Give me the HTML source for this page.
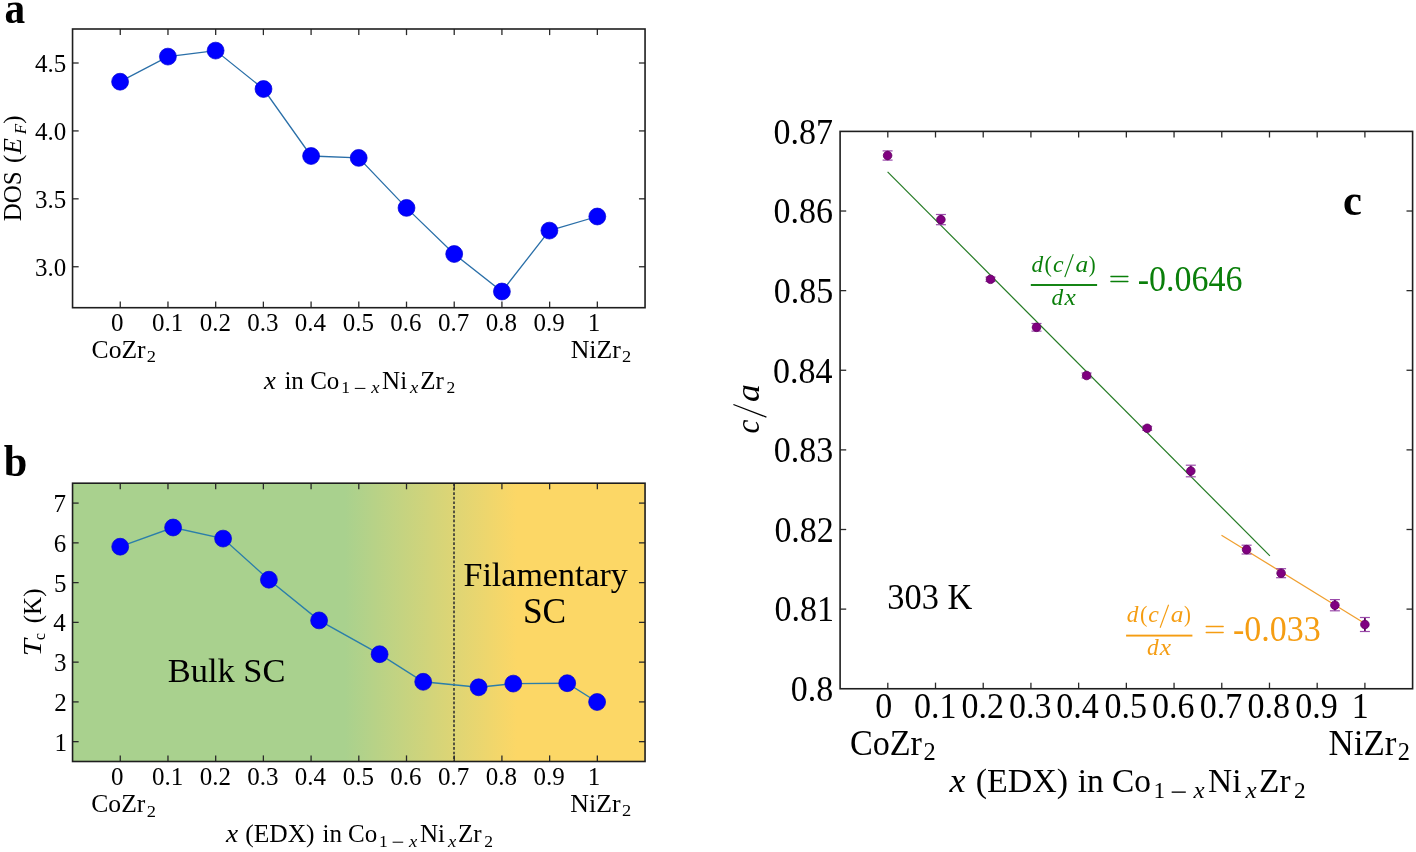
<!DOCTYPE html>
<html><head><meta charset="utf-8"><style>
html,body{margin:0;padding:0;background:#fff;overflow:hidden;}
svg{display:block;will-change:transform;font-family:"Liberation Serif",serif;}
</style></head><body>
<svg width="1416" height="852" viewBox="0 0 1416 852">
<rect width="1416" height="852" fill="#fff"/>
<polyline fill="none" stroke="#2a6fa8" stroke-width="1.3" points="120.1,81.7 167.9,56.6 215.6,50.6 263.5,89.0 311.1,156.0 358.7,157.9 406.5,207.9 454.2,254.0 501.9,291.5 549.4,230.6 597.3,216.5"/>
<circle cx="120.10" cy="81.70" r="8.45" fill="#0000ff" stroke="#0000d2" stroke-width="0.7"/>
<circle cx="167.90" cy="56.60" r="8.45" fill="#0000ff" stroke="#0000d2" stroke-width="0.7"/>
<circle cx="215.60" cy="50.60" r="8.45" fill="#0000ff" stroke="#0000d2" stroke-width="0.7"/>
<circle cx="263.50" cy="89.00" r="8.45" fill="#0000ff" stroke="#0000d2" stroke-width="0.7"/>
<circle cx="311.10" cy="156.00" r="8.45" fill="#0000ff" stroke="#0000d2" stroke-width="0.7"/>
<circle cx="358.70" cy="157.90" r="8.45" fill="#0000ff" stroke="#0000d2" stroke-width="0.7"/>
<circle cx="406.50" cy="207.90" r="8.45" fill="#0000ff" stroke="#0000d2" stroke-width="0.7"/>
<circle cx="454.20" cy="254.00" r="8.45" fill="#0000ff" stroke="#0000d2" stroke-width="0.7"/>
<circle cx="501.90" cy="291.50" r="8.45" fill="#0000ff" stroke="#0000d2" stroke-width="0.7"/>
<circle cx="549.40" cy="230.60" r="8.45" fill="#0000ff" stroke="#0000d2" stroke-width="0.7"/>
<circle cx="597.30" cy="216.50" r="8.45" fill="#0000ff" stroke="#0000d2" stroke-width="0.7"/>
<line x1="120.26" y1="29.00" x2="120.26" y2="35.10" stroke="#2a2a2a" stroke-width="1.3"/>
<line x1="120.26" y1="307.70" x2="120.26" y2="301.60" stroke="#2a2a2a" stroke-width="1.3"/>
<line x1="167.97" y1="29.00" x2="167.97" y2="35.10" stroke="#2a2a2a" stroke-width="1.3"/>
<line x1="167.97" y1="307.70" x2="167.97" y2="301.60" stroke="#2a2a2a" stroke-width="1.3"/>
<line x1="215.68" y1="29.00" x2="215.68" y2="35.10" stroke="#2a2a2a" stroke-width="1.3"/>
<line x1="215.68" y1="307.70" x2="215.68" y2="301.60" stroke="#2a2a2a" stroke-width="1.3"/>
<line x1="263.38" y1="29.00" x2="263.38" y2="35.10" stroke="#2a2a2a" stroke-width="1.3"/>
<line x1="263.38" y1="307.70" x2="263.38" y2="301.60" stroke="#2a2a2a" stroke-width="1.3"/>
<line x1="311.09" y1="29.00" x2="311.09" y2="35.10" stroke="#2a2a2a" stroke-width="1.3"/>
<line x1="311.09" y1="307.70" x2="311.09" y2="301.60" stroke="#2a2a2a" stroke-width="1.3"/>
<line x1="358.80" y1="29.00" x2="358.80" y2="35.10" stroke="#2a2a2a" stroke-width="1.3"/>
<line x1="358.80" y1="307.70" x2="358.80" y2="301.60" stroke="#2a2a2a" stroke-width="1.3"/>
<line x1="406.51" y1="29.00" x2="406.51" y2="35.10" stroke="#2a2a2a" stroke-width="1.3"/>
<line x1="406.51" y1="307.70" x2="406.51" y2="301.60" stroke="#2a2a2a" stroke-width="1.3"/>
<line x1="454.22" y1="29.00" x2="454.22" y2="35.10" stroke="#2a2a2a" stroke-width="1.3"/>
<line x1="454.22" y1="307.70" x2="454.22" y2="301.60" stroke="#2a2a2a" stroke-width="1.3"/>
<line x1="501.92" y1="29.00" x2="501.92" y2="35.10" stroke="#2a2a2a" stroke-width="1.3"/>
<line x1="501.92" y1="307.70" x2="501.92" y2="301.60" stroke="#2a2a2a" stroke-width="1.3"/>
<line x1="549.63" y1="29.00" x2="549.63" y2="35.10" stroke="#2a2a2a" stroke-width="1.3"/>
<line x1="549.63" y1="307.70" x2="549.63" y2="301.60" stroke="#2a2a2a" stroke-width="1.3"/>
<line x1="597.34" y1="29.00" x2="597.34" y2="35.10" stroke="#2a2a2a" stroke-width="1.3"/>
<line x1="597.34" y1="307.70" x2="597.34" y2="301.60" stroke="#2a2a2a" stroke-width="1.3"/>
<line x1="72.55" y1="266.75" x2="78.65" y2="266.75" stroke="#2a2a2a" stroke-width="1.3"/>
<line x1="645.05" y1="266.75" x2="638.95" y2="266.75" stroke="#2a2a2a" stroke-width="1.3"/>
<line x1="72.55" y1="198.83" x2="78.65" y2="198.83" stroke="#2a2a2a" stroke-width="1.3"/>
<line x1="645.05" y1="198.83" x2="638.95" y2="198.83" stroke="#2a2a2a" stroke-width="1.3"/>
<line x1="72.55" y1="130.92" x2="78.65" y2="130.92" stroke="#2a2a2a" stroke-width="1.3"/>
<line x1="645.05" y1="130.92" x2="638.95" y2="130.92" stroke="#2a2a2a" stroke-width="1.3"/>
<line x1="72.55" y1="63.00" x2="78.65" y2="63.00" stroke="#2a2a2a" stroke-width="1.3"/>
<line x1="645.05" y1="63.00" x2="638.95" y2="63.00" stroke="#2a2a2a" stroke-width="1.3"/>
<rect x="72.55" y="29.0" width="572.50" height="278.70" fill="none" stroke="#1e1e1e" stroke-width="1.6"/>
<text x="34.90" y="275.75" font-size="25">3.0</text>
<text x="34.93" y="207.83" font-size="25">3.5</text>
<text x="34.90" y="139.92" font-size="25">4.0</text>
<text x="34.93" y="72.00" font-size="25">4.5</text>
<text x="111.01" y="331.00" font-size="25">0</text>
<text x="152.12" y="331.00" font-size="25">0.1</text>
<text x="199.76" y="331.00" font-size="25">0.2</text>
<text x="247.27" y="331.00" font-size="25">0.3</text>
<text x="294.69" y="331.00" font-size="25">0.4</text>
<text x="342.69" y="331.00" font-size="25">0.5</text>
<text x="390.28" y="331.00" font-size="25">0.6</text>
<text x="437.98" y="331.00" font-size="25">0.7</text>
<text x="485.80" y="331.00" font-size="25">0.8</text>
<text x="533.54" y="331.00" font-size="25">0.9</text>
<text x="587.74" y="331.00" font-size="25">1</text>
<text x="4.47" y="23.00" font-size="43.5" font-weight="bold" textLength="20.66" lengthAdjust="spacingAndGlyphs">a</text>
<text x="91.55" y="358.00" font-size="25" textLength="54.08" lengthAdjust="spacingAndGlyphs">CoZr</text>
<text x="146.89" y="362.30" font-size="17.5" textLength="9.23" lengthAdjust="spacingAndGlyphs">2</text>
<text x="570.66" y="358.20" font-size="25" textLength="50.17" lengthAdjust="spacingAndGlyphs">NiZr</text>
<text x="622.09" y="362.30" font-size="17.5" textLength="9.23" lengthAdjust="spacingAndGlyphs">2</text>
<text x="263.93" y="388.60" font-size="25" font-style="italic" textLength="11.87" lengthAdjust="spacingAndGlyphs">x</text>
<text x="284.38" y="388.60" font-size="25">in</text>
<text x="310.17" y="388.60" font-size="25">Co</text>
<text x="341.16" y="393.10" font-size="17.5">1</text>
<rect x="354.80" y="387.90" width="10.60" height="1.00" fill="#000"/>
<text x="371.23" y="393.10" font-size="17.5" font-style="italic" textLength="8.31" lengthAdjust="spacingAndGlyphs">x</text>
<text x="382.08" y="388.60" font-size="25">Ni</text>
<text x="410.13" y="393.10" font-size="17.5" font-style="italic" textLength="8.31" lengthAdjust="spacingAndGlyphs">x</text>
<text x="420.20" y="388.60" font-size="25">Zr</text>
<text x="446.43" y="393.10" font-size="17.5">2</text>
<g transform="translate(21.4,220.6) rotate(-90)">
<text x="-0.72" y="0.00" font-size="25">DOS</text>
<text x="57.50" y="0.00" font-size="25">(</text>
<text x="66.60" y="0.00" font-size="25" font-style="italic" textLength="15.81" lengthAdjust="spacingAndGlyphs">E</text>
<text x="86.39" y="4.50" font-size="17.5" font-style="italic" textLength="10.47" lengthAdjust="spacingAndGlyphs">F</text>
<text x="96.79" y="0.00" font-size="25">)</text>
</g>
<defs><linearGradient id="gb" x1="0" x2="1" y1="0" y2="0"><stop offset="0" stop-color="#a9d18e"/><stop offset="0.4759" stop-color="#a9d18e"/><stop offset="0.7763" stop-color="#fcd766"/><stop offset="1" stop-color="#fcd766"/></linearGradient></defs>
<rect x="72.55" y="483.2" width="572.50" height="278.30" fill="url(#gb)"/>
<line x1="454.00" y1="483.20" x2="454.00" y2="761.50" stroke="#333" stroke-width="1.6" stroke-dasharray="2.7,1.85"/>
<polyline fill="none" stroke="#2b7eaa" stroke-width="1.4" points="120.2,546.7 173.1,527.5 223.1,538.6 268.9,579.7 319.1,620.4 379.6,654.2 423.2,681.8 478.6,687.3 513.3,683.6 567.2,683.2 597.1,702.0"/>
<circle cx="120.20" cy="546.70" r="8.45" fill="#0000ff" stroke="#0000d2" stroke-width="0.7"/>
<circle cx="173.10" cy="527.50" r="8.45" fill="#0000ff" stroke="#0000d2" stroke-width="0.7"/>
<circle cx="223.10" cy="538.60" r="8.45" fill="#0000ff" stroke="#0000d2" stroke-width="0.7"/>
<circle cx="268.90" cy="579.70" r="8.45" fill="#0000ff" stroke="#0000d2" stroke-width="0.7"/>
<circle cx="319.10" cy="620.40" r="8.45" fill="#0000ff" stroke="#0000d2" stroke-width="0.7"/>
<circle cx="379.60" cy="654.20" r="8.45" fill="#0000ff" stroke="#0000d2" stroke-width="0.7"/>
<circle cx="423.20" cy="681.80" r="8.45" fill="#0000ff" stroke="#0000d2" stroke-width="0.7"/>
<circle cx="478.60" cy="687.30" r="8.45" fill="#0000ff" stroke="#0000d2" stroke-width="0.7"/>
<circle cx="513.30" cy="683.60" r="8.45" fill="#0000ff" stroke="#0000d2" stroke-width="0.7"/>
<circle cx="567.20" cy="683.20" r="8.45" fill="#0000ff" stroke="#0000d2" stroke-width="0.7"/>
<circle cx="597.10" cy="702.00" r="8.45" fill="#0000ff" stroke="#0000d2" stroke-width="0.7"/>
<line x1="120.26" y1="483.20" x2="120.26" y2="489.30" stroke="#2a2a2a" stroke-width="1.3"/>
<line x1="120.26" y1="761.50" x2="120.26" y2="755.40" stroke="#2a2a2a" stroke-width="1.3"/>
<line x1="167.97" y1="483.20" x2="167.97" y2="489.30" stroke="#2a2a2a" stroke-width="1.3"/>
<line x1="167.97" y1="761.50" x2="167.97" y2="755.40" stroke="#2a2a2a" stroke-width="1.3"/>
<line x1="215.68" y1="483.20" x2="215.68" y2="489.30" stroke="#2a2a2a" stroke-width="1.3"/>
<line x1="215.68" y1="761.50" x2="215.68" y2="755.40" stroke="#2a2a2a" stroke-width="1.3"/>
<line x1="263.38" y1="483.20" x2="263.38" y2="489.30" stroke="#2a2a2a" stroke-width="1.3"/>
<line x1="263.38" y1="761.50" x2="263.38" y2="755.40" stroke="#2a2a2a" stroke-width="1.3"/>
<line x1="311.09" y1="483.20" x2="311.09" y2="489.30" stroke="#2a2a2a" stroke-width="1.3"/>
<line x1="311.09" y1="761.50" x2="311.09" y2="755.40" stroke="#2a2a2a" stroke-width="1.3"/>
<line x1="358.80" y1="483.20" x2="358.80" y2="489.30" stroke="#2a2a2a" stroke-width="1.3"/>
<line x1="358.80" y1="761.50" x2="358.80" y2="755.40" stroke="#2a2a2a" stroke-width="1.3"/>
<line x1="406.51" y1="483.20" x2="406.51" y2="489.30" stroke="#2a2a2a" stroke-width="1.3"/>
<line x1="406.51" y1="761.50" x2="406.51" y2="755.40" stroke="#2a2a2a" stroke-width="1.3"/>
<line x1="454.22" y1="483.20" x2="454.22" y2="489.30" stroke="#2a2a2a" stroke-width="1.3"/>
<line x1="454.22" y1="761.50" x2="454.22" y2="755.40" stroke="#2a2a2a" stroke-width="1.3"/>
<line x1="501.92" y1="483.20" x2="501.92" y2="489.30" stroke="#2a2a2a" stroke-width="1.3"/>
<line x1="501.92" y1="761.50" x2="501.92" y2="755.40" stroke="#2a2a2a" stroke-width="1.3"/>
<line x1="549.63" y1="483.20" x2="549.63" y2="489.30" stroke="#2a2a2a" stroke-width="1.3"/>
<line x1="549.63" y1="761.50" x2="549.63" y2="755.40" stroke="#2a2a2a" stroke-width="1.3"/>
<line x1="597.34" y1="483.20" x2="597.34" y2="489.30" stroke="#2a2a2a" stroke-width="1.3"/>
<line x1="597.34" y1="761.50" x2="597.34" y2="755.40" stroke="#2a2a2a" stroke-width="1.3"/>
<line x1="72.55" y1="741.66" x2="78.65" y2="741.66" stroke="#2a2a2a" stroke-width="1.3"/>
<line x1="645.05" y1="741.66" x2="638.95" y2="741.66" stroke="#2a2a2a" stroke-width="1.3"/>
<line x1="72.55" y1="701.90" x2="78.65" y2="701.90" stroke="#2a2a2a" stroke-width="1.3"/>
<line x1="645.05" y1="701.90" x2="638.95" y2="701.90" stroke="#2a2a2a" stroke-width="1.3"/>
<line x1="72.55" y1="662.14" x2="78.65" y2="662.14" stroke="#2a2a2a" stroke-width="1.3"/>
<line x1="645.05" y1="662.14" x2="638.95" y2="662.14" stroke="#2a2a2a" stroke-width="1.3"/>
<line x1="72.55" y1="622.38" x2="78.65" y2="622.38" stroke="#2a2a2a" stroke-width="1.3"/>
<line x1="645.05" y1="622.38" x2="638.95" y2="622.38" stroke="#2a2a2a" stroke-width="1.3"/>
<line x1="72.55" y1="582.62" x2="78.65" y2="582.62" stroke="#2a2a2a" stroke-width="1.3"/>
<line x1="645.05" y1="582.62" x2="638.95" y2="582.62" stroke="#2a2a2a" stroke-width="1.3"/>
<line x1="72.55" y1="542.86" x2="78.65" y2="542.86" stroke="#2a2a2a" stroke-width="1.3"/>
<line x1="645.05" y1="542.86" x2="638.95" y2="542.86" stroke="#2a2a2a" stroke-width="1.3"/>
<line x1="72.55" y1="503.10" x2="78.65" y2="503.10" stroke="#2a2a2a" stroke-width="1.3"/>
<line x1="645.05" y1="503.10" x2="638.95" y2="503.10" stroke="#2a2a2a" stroke-width="1.3"/>
<rect x="72.55" y="483.2" width="572.50" height="278.30" fill="none" stroke="#1e1e1e" stroke-width="1.6"/>
<text x="54.40" y="750.66" font-size="25">1</text>
<text x="54.28" y="710.90" font-size="25">2</text>
<text x="53.88" y="671.14" font-size="25">3</text>
<text x="53.29" y="631.38" font-size="25">4</text>
<text x="53.88" y="591.62" font-size="25">5</text>
<text x="53.64" y="551.86" font-size="25">6</text>
<text x="53.62" y="512.10" font-size="25">7</text>
<text x="111.01" y="784.80" font-size="25">0</text>
<text x="152.12" y="784.80" font-size="25">0.1</text>
<text x="199.76" y="784.80" font-size="25">0.2</text>
<text x="247.27" y="784.80" font-size="25">0.3</text>
<text x="294.69" y="784.80" font-size="25">0.4</text>
<text x="342.69" y="784.80" font-size="25">0.5</text>
<text x="390.28" y="784.80" font-size="25">0.6</text>
<text x="437.98" y="784.80" font-size="25">0.7</text>
<text x="485.80" y="784.80" font-size="25">0.8</text>
<text x="533.54" y="784.80" font-size="25">0.9</text>
<text x="587.74" y="784.80" font-size="25">1</text>
<text x="3.86" y="476.40" font-size="43.3" font-weight="bold" textLength="23.55" lengthAdjust="spacingAndGlyphs">b</text>
<text x="91.25" y="812.40" font-size="25" textLength="54.08" lengthAdjust="spacingAndGlyphs">CoZr</text>
<text x="146.69" y="816.50" font-size="17.5" textLength="9.23" lengthAdjust="spacingAndGlyphs">2</text>
<text x="570.36" y="812.20" font-size="25" textLength="50.17" lengthAdjust="spacingAndGlyphs">NiZr</text>
<text x="622.09" y="816.40" font-size="17.5" textLength="9.23" lengthAdjust="spacingAndGlyphs">2</text>
<text x="225.93" y="842.40" font-size="25" font-style="italic" textLength="12.17" lengthAdjust="spacingAndGlyphs">x</text>
<text x="245.28" y="842.40" font-size="25" textLength="69.34" lengthAdjust="spacingAndGlyphs">(EDX)</text>
<text x="322.48" y="842.40" font-size="25">in</text>
<text x="347.97" y="842.40" font-size="25">Co</text>
<text x="378.96" y="846.90" font-size="17.5">1</text>
<rect x="392.60" y="841.70" width="10.60" height="1.00" fill="#000"/>
<text x="409.03" y="846.90" font-size="17.5" font-style="italic" textLength="8.31" lengthAdjust="spacingAndGlyphs">x</text>
<text x="419.88" y="842.40" font-size="25">Ni</text>
<text x="447.93" y="846.90" font-size="17.5" font-style="italic" textLength="8.31" lengthAdjust="spacingAndGlyphs">x</text>
<text x="458.00" y="842.40" font-size="25">Zr</text>
<text x="484.23" y="846.90" font-size="17.5">2</text>
<text x="463.52" y="586.40" font-size="34">Filamentary</text>
<text x="522.93" y="622.70" font-size="35.3" textLength="43.32" lengthAdjust="spacingAndGlyphs">SC</text>
<text x="167.71" y="682.00" font-size="34" textLength="117.69" lengthAdjust="spacingAndGlyphs">Bulk SC</text>
<g transform="translate(40.8,654.6) rotate(-90)">
<text x="-1.71" y="0.00" font-size="25" font-style="italic" textLength="17.10" lengthAdjust="spacingAndGlyphs">T</text>
<text x="14.70" y="4.40" font-size="17.5" textLength="6.98" lengthAdjust="spacingAndGlyphs">c</text>
<text x="31.40" y="0.00" font-size="25">(K)</text>
</g>
<line x1="887.80" y1="131.40" x2="887.80" y2="137.50" stroke="#2a2a2a" stroke-width="1.3"/>
<line x1="887.80" y1="688.75" x2="887.80" y2="682.65" stroke="#2a2a2a" stroke-width="1.3"/>
<line x1="935.51" y1="131.40" x2="935.51" y2="137.50" stroke="#2a2a2a" stroke-width="1.3"/>
<line x1="935.51" y1="688.75" x2="935.51" y2="682.65" stroke="#2a2a2a" stroke-width="1.3"/>
<line x1="983.22" y1="131.40" x2="983.22" y2="137.50" stroke="#2a2a2a" stroke-width="1.3"/>
<line x1="983.22" y1="688.75" x2="983.22" y2="682.65" stroke="#2a2a2a" stroke-width="1.3"/>
<line x1="1030.93" y1="131.40" x2="1030.93" y2="137.50" stroke="#2a2a2a" stroke-width="1.3"/>
<line x1="1030.93" y1="688.75" x2="1030.93" y2="682.65" stroke="#2a2a2a" stroke-width="1.3"/>
<line x1="1078.64" y1="131.40" x2="1078.64" y2="137.50" stroke="#2a2a2a" stroke-width="1.3"/>
<line x1="1078.64" y1="688.75" x2="1078.64" y2="682.65" stroke="#2a2a2a" stroke-width="1.3"/>
<line x1="1126.35" y1="131.40" x2="1126.35" y2="137.50" stroke="#2a2a2a" stroke-width="1.3"/>
<line x1="1126.35" y1="688.75" x2="1126.35" y2="682.65" stroke="#2a2a2a" stroke-width="1.3"/>
<line x1="1174.06" y1="131.40" x2="1174.06" y2="137.50" stroke="#2a2a2a" stroke-width="1.3"/>
<line x1="1174.06" y1="688.75" x2="1174.06" y2="682.65" stroke="#2a2a2a" stroke-width="1.3"/>
<line x1="1221.77" y1="131.40" x2="1221.77" y2="137.50" stroke="#2a2a2a" stroke-width="1.3"/>
<line x1="1221.77" y1="688.75" x2="1221.77" y2="682.65" stroke="#2a2a2a" stroke-width="1.3"/>
<line x1="1269.48" y1="131.40" x2="1269.48" y2="137.50" stroke="#2a2a2a" stroke-width="1.3"/>
<line x1="1269.48" y1="688.75" x2="1269.48" y2="682.65" stroke="#2a2a2a" stroke-width="1.3"/>
<line x1="1317.19" y1="131.40" x2="1317.19" y2="137.50" stroke="#2a2a2a" stroke-width="1.3"/>
<line x1="1317.19" y1="688.75" x2="1317.19" y2="682.65" stroke="#2a2a2a" stroke-width="1.3"/>
<line x1="1364.90" y1="131.40" x2="1364.90" y2="137.50" stroke="#2a2a2a" stroke-width="1.3"/>
<line x1="1364.90" y1="688.75" x2="1364.90" y2="682.65" stroke="#2a2a2a" stroke-width="1.3"/>
<line x1="840.10" y1="609.12" x2="846.20" y2="609.12" stroke="#2a2a2a" stroke-width="1.3"/>
<line x1="1412.60" y1="609.12" x2="1406.50" y2="609.12" stroke="#2a2a2a" stroke-width="1.3"/>
<line x1="840.10" y1="529.50" x2="846.20" y2="529.50" stroke="#2a2a2a" stroke-width="1.3"/>
<line x1="1412.60" y1="529.50" x2="1406.50" y2="529.50" stroke="#2a2a2a" stroke-width="1.3"/>
<line x1="840.10" y1="449.88" x2="846.20" y2="449.88" stroke="#2a2a2a" stroke-width="1.3"/>
<line x1="1412.60" y1="449.88" x2="1406.50" y2="449.88" stroke="#2a2a2a" stroke-width="1.3"/>
<line x1="840.10" y1="370.26" x2="846.20" y2="370.26" stroke="#2a2a2a" stroke-width="1.3"/>
<line x1="1412.60" y1="370.26" x2="1406.50" y2="370.26" stroke="#2a2a2a" stroke-width="1.3"/>
<line x1="840.10" y1="290.64" x2="846.20" y2="290.64" stroke="#2a2a2a" stroke-width="1.3"/>
<line x1="1412.60" y1="290.64" x2="1406.50" y2="290.64" stroke="#2a2a2a" stroke-width="1.3"/>
<line x1="840.10" y1="211.02" x2="846.20" y2="211.02" stroke="#2a2a2a" stroke-width="1.3"/>
<line x1="1412.60" y1="211.02" x2="1406.50" y2="211.02" stroke="#2a2a2a" stroke-width="1.3"/>
<rect x="840.1" y="131.4" width="572.50" height="557.35" fill="none" stroke="#1e1e1e" stroke-width="1.6"/>
<text transform="translate(790.79,701.04) scale(1,1.04)" font-size="34">0.8</text>
<text transform="translate(774.54,621.42) scale(1,1.04)" font-size="34">0.81</text>
<text transform="translate(774.38,541.80) scale(1,1.04)" font-size="34">0.82</text>
<text transform="translate(773.83,462.18) scale(1,1.04)" font-size="34">0.83</text>
<text transform="translate(773.03,382.56) scale(1,1.04)" font-size="34">0.84</text>
<text transform="translate(773.83,302.94) scale(1,1.04)" font-size="34">0.85</text>
<text transform="translate(773.51,223.32) scale(1,1.04)" font-size="34">0.86</text>
<text transform="translate(773.48,143.70) scale(1,1.04)" font-size="34">0.87</text>
<text transform="translate(875.22,718.10) scale(1,1.04)" font-size="34">0</text>
<text transform="translate(913.95,718.10) scale(1,1.04)" font-size="34">0.1</text>
<text transform="translate(961.58,718.10) scale(1,1.04)" font-size="34">0.2</text>
<text transform="translate(1009.02,718.10) scale(1,1.04)" font-size="34">0.3</text>
<text transform="translate(1056.33,718.10) scale(1,1.04)" font-size="34">0.4</text>
<text transform="translate(1104.44,718.10) scale(1,1.04)" font-size="34">0.5</text>
<text transform="translate(1151.99,718.10) scale(1,1.04)" font-size="34">0.6</text>
<text transform="translate(1199.68,718.10) scale(1,1.04)" font-size="34">0.7</text>
<text transform="translate(1247.55,718.10) scale(1,1.04)" font-size="34">0.8</text>
<text transform="translate(1295.31,718.10) scale(1,1.04)" font-size="34">0.9</text>
<text transform="translate(1351.85,718.10) scale(1,1.04)" font-size="34">1</text>
<text x="1342.94" y="215.30" font-size="44.5" font-weight="bold" textLength="18.92" lengthAdjust="spacingAndGlyphs">c</text>
<text transform="translate(849.90,754.50) scale(1,1.035)" font-size="34" textLength="72.10" lengthAdjust="spacingAndGlyphs">CoZr</text>
<text transform="translate(923.53,759.60) scale(1,1.035)" font-size="23.5" textLength="12.22" lengthAdjust="spacingAndGlyphs">2</text>
<text transform="translate(1328.50,754.50) scale(1,1.035)" font-size="34" textLength="67.81" lengthAdjust="spacingAndGlyphs">NiZr</text>
<text transform="translate(1397.83,759.60) scale(1,1.035)" font-size="23.5" textLength="12.22" lengthAdjust="spacingAndGlyphs">2</text>
<text x="949.44" y="792.40" font-size="33.4" font-style="italic" textLength="16.02" lengthAdjust="spacingAndGlyphs">x</text>
<text x="975.71" y="792.40" font-size="33.4" textLength="92.28" lengthAdjust="spacingAndGlyphs">(EDX)</text>
<text x="1077.70" y="792.40" font-size="33.4">in</text>
<text x="1112.03" y="792.40" font-size="33.4">Co</text>
<text x="1153.43" y="798.41" font-size="23.38">1</text>
<rect x="1171.65" y="791.46" width="14.16" height="1.34" fill="#000"/>
<text x="1193.60" y="798.41" font-size="23.38" font-style="italic" textLength="11.10" lengthAdjust="spacingAndGlyphs">x</text>
<text x="1208.10" y="792.40" font-size="33.4">Ni</text>
<text x="1245.57" y="798.41" font-size="23.38" font-style="italic" textLength="11.10" lengthAdjust="spacingAndGlyphs">x</text>
<text x="1259.03" y="792.40" font-size="33.4">Zr</text>
<text x="1294.07" y="798.41" font-size="23.38">2</text>
<g transform="translate(758.6,432.8) rotate(-90)">
<text x="-0.66" y="0.00" font-size="33.4" font-style="italic" textLength="13.90" lengthAdjust="spacingAndGlyphs">c</text>
<line x1="15.70" y1="7.80" x2="28.30" y2="-25.20" stroke="#000" stroke-width="1.3"/>
<text x="30.84" y="0.00" font-size="33.4" font-style="italic" textLength="17.80" lengthAdjust="spacingAndGlyphs">a</text>
</g>
<text transform="translate(887.36,609.00) scale(1,1.04)" font-size="34" textLength="84.79" lengthAdjust="spacingAndGlyphs">303 K</text>
<line x1="887.60" y1="171.80" x2="1269.90" y2="555.90" stroke="#237a23" stroke-width="1.2"/>
<line x1="1221.50" y1="535.20" x2="1364.90" y2="623.50" stroke="#f0a030" stroke-width="1.2"/>
<line x1="887.60" y1="150.90" x2="887.60" y2="160.10" stroke="#5e005e" stroke-width="1.8"/>
<line x1="882.60" y1="150.90" x2="892.60" y2="150.90" stroke="#9a4aaa" stroke-width="1.2"/>
<line x1="882.60" y1="160.10" x2="892.60" y2="160.10" stroke="#9a4aaa" stroke-width="1.2"/>
<circle cx="887.60" cy="155.50" r="4.3" fill="#800080" stroke="#600060" stroke-width="0.8"/>
<line x1="940.90" y1="214.50" x2="940.90" y2="224.70" stroke="#5e005e" stroke-width="1.8"/>
<line x1="935.90" y1="214.50" x2="945.90" y2="214.50" stroke="#9a4aaa" stroke-width="1.2"/>
<line x1="935.90" y1="224.70" x2="945.90" y2="224.70" stroke="#9a4aaa" stroke-width="1.2"/>
<circle cx="940.90" cy="219.60" r="4.3" fill="#800080" stroke="#600060" stroke-width="0.8"/>
<line x1="990.50" y1="277.10" x2="990.50" y2="281.50" stroke="#5e005e" stroke-width="1.8"/>
<line x1="985.50" y1="277.10" x2="995.50" y2="277.10" stroke="#9a4aaa" stroke-width="1.2"/>
<line x1="985.50" y1="281.50" x2="995.50" y2="281.50" stroke="#9a4aaa" stroke-width="1.2"/>
<circle cx="990.50" cy="279.30" r="4.3" fill="#800080" stroke="#600060" stroke-width="0.8"/>
<line x1="1036.50" y1="323.50" x2="1036.50" y2="331.10" stroke="#5e005e" stroke-width="1.8"/>
<line x1="1031.50" y1="323.50" x2="1041.50" y2="323.50" stroke="#9a4aaa" stroke-width="1.2"/>
<line x1="1031.50" y1="331.10" x2="1041.50" y2="331.10" stroke="#9a4aaa" stroke-width="1.2"/>
<circle cx="1036.50" cy="327.30" r="4.3" fill="#800080" stroke="#600060" stroke-width="0.8"/>
<line x1="1086.60" y1="373.00" x2="1086.60" y2="378.00" stroke="#5e005e" stroke-width="1.8"/>
<line x1="1081.60" y1="373.00" x2="1091.60" y2="373.00" stroke="#9a4aaa" stroke-width="1.2"/>
<line x1="1081.60" y1="378.00" x2="1091.60" y2="378.00" stroke="#9a4aaa" stroke-width="1.2"/>
<circle cx="1086.60" cy="375.50" r="4.3" fill="#800080" stroke="#600060" stroke-width="0.8"/>
<line x1="1147.20" y1="426.30" x2="1147.20" y2="430.30" stroke="#5e005e" stroke-width="1.8"/>
<line x1="1142.20" y1="426.30" x2="1152.20" y2="426.30" stroke="#9a4aaa" stroke-width="1.2"/>
<line x1="1142.20" y1="430.30" x2="1152.20" y2="430.30" stroke="#9a4aaa" stroke-width="1.2"/>
<circle cx="1147.20" cy="428.30" r="4.3" fill="#800080" stroke="#600060" stroke-width="0.8"/>
<line x1="1190.80" y1="465.20" x2="1190.80" y2="476.80" stroke="#5e005e" stroke-width="1.8"/>
<line x1="1185.80" y1="465.20" x2="1195.80" y2="465.20" stroke="#9a4aaa" stroke-width="1.2"/>
<line x1="1185.80" y1="476.80" x2="1195.80" y2="476.80" stroke="#9a4aaa" stroke-width="1.2"/>
<circle cx="1190.80" cy="471.00" r="4.3" fill="#800080" stroke="#600060" stroke-width="0.8"/>
<line x1="1246.60" y1="545.20" x2="1246.60" y2="554.00" stroke="#5e005e" stroke-width="1.8"/>
<line x1="1241.60" y1="545.20" x2="1251.60" y2="545.20" stroke="#9a4aaa" stroke-width="1.2"/>
<line x1="1241.60" y1="554.00" x2="1251.60" y2="554.00" stroke="#9a4aaa" stroke-width="1.2"/>
<circle cx="1246.60" cy="549.60" r="4.3" fill="#800080" stroke="#600060" stroke-width="0.8"/>
<line x1="1281.10" y1="568.70" x2="1281.10" y2="577.70" stroke="#5e005e" stroke-width="1.8"/>
<line x1="1276.10" y1="568.70" x2="1286.10" y2="568.70" stroke="#9a4aaa" stroke-width="1.2"/>
<line x1="1276.10" y1="577.70" x2="1286.10" y2="577.70" stroke="#9a4aaa" stroke-width="1.2"/>
<circle cx="1281.10" cy="573.20" r="4.3" fill="#800080" stroke="#600060" stroke-width="0.8"/>
<line x1="1334.90" y1="599.60" x2="1334.90" y2="610.80" stroke="#5e005e" stroke-width="1.8"/>
<line x1="1329.90" y1="599.60" x2="1339.90" y2="599.60" stroke="#9a4aaa" stroke-width="1.2"/>
<line x1="1329.90" y1="610.80" x2="1339.90" y2="610.80" stroke="#9a4aaa" stroke-width="1.2"/>
<circle cx="1334.90" cy="605.20" r="4.3" fill="#800080" stroke="#600060" stroke-width="0.8"/>
<line x1="1364.90" y1="617.50" x2="1364.90" y2="631.50" stroke="#5e005e" stroke-width="1.8"/>
<line x1="1359.90" y1="617.50" x2="1369.90" y2="617.50" stroke="#9a4aaa" stroke-width="1.2"/>
<line x1="1359.90" y1="631.50" x2="1369.90" y2="631.50" stroke="#9a4aaa" stroke-width="1.2"/>
<circle cx="1364.90" cy="624.50" r="4.3" fill="#800080" stroke="#600060" stroke-width="0.8"/>
<rect x="1030.80" y="284.05" width="66.3" height="1.9" fill="#0a7f0a"/>
<text x="1031.49" y="271.80" font-size="24" font-style="italic" textLength="11.65" lengthAdjust="spacingAndGlyphs" fill="#0a7f0a">d</text>
<text x="1044.62" y="271.80" font-size="24" textLength="7.39" lengthAdjust="spacingAndGlyphs" fill="#0a7f0a">(</text>
<text x="1052.97" y="271.80" font-size="24" font-style="italic" textLength="10.59" lengthAdjust="spacingAndGlyphs" fill="#0a7f0a">c</text>
<line x1="1064.80" y1="277.10" x2="1073.30" y2="254.10" stroke="#0a7f0a" stroke-width="1.15"/>
<text x="1075.44" y="271.80" font-size="24" font-style="italic" textLength="12.71" lengthAdjust="spacingAndGlyphs" fill="#0a7f0a">a</text>
<text x="1088.63" y="271.80" font-size="24" textLength="6.87" lengthAdjust="spacingAndGlyphs" fill="#0a7f0a">)</text>
<text x="1051.59" y="304.60" font-size="24" font-style="italic" textLength="11.65" lengthAdjust="spacingAndGlyphs" fill="#0a7f0a">d</text>
<text x="1064.51" y="304.60" font-size="24" font-style="italic" textLength="11.28" lengthAdjust="spacingAndGlyphs" fill="#0a7f0a">x</text>
<line x1="1110.90" y1="276.50" x2="1127.90" y2="276.50" stroke="#0a7f0a" stroke-width="1.3" stroke-linecap="round"/>
<line x1="1110.90" y1="281.50" x2="1127.90" y2="281.50" stroke="#0a7f0a" stroke-width="1.3" stroke-linecap="round"/>
<text transform="translate(1137.64,290.60) scale(1,1.04)" font-size="34" fill="#0a7f0a">-0.0646</text>
<rect x="1126.10" y="634.65" width="66.3" height="1.9" fill="#f59d12"/>
<text x="1126.79" y="622.40" font-size="24" font-style="italic" textLength="11.65" lengthAdjust="spacingAndGlyphs" fill="#f59d12">d</text>
<text x="1139.92" y="622.40" font-size="24" textLength="7.39" lengthAdjust="spacingAndGlyphs" fill="#f59d12">(</text>
<text x="1148.27" y="622.40" font-size="24" font-style="italic" textLength="10.59" lengthAdjust="spacingAndGlyphs" fill="#f59d12">c</text>
<line x1="1160.10" y1="627.70" x2="1168.60" y2="604.70" stroke="#f59d12" stroke-width="1.15"/>
<text x="1170.74" y="622.40" font-size="24" font-style="italic" textLength="12.71" lengthAdjust="spacingAndGlyphs" fill="#f59d12">a</text>
<text x="1183.93" y="622.40" font-size="24" textLength="6.87" lengthAdjust="spacingAndGlyphs" fill="#f59d12">)</text>
<text x="1146.89" y="655.20" font-size="24" font-style="italic" textLength="11.65" lengthAdjust="spacingAndGlyphs" fill="#f59d12">d</text>
<text x="1159.81" y="655.20" font-size="24" font-style="italic" textLength="11.28" lengthAdjust="spacingAndGlyphs" fill="#f59d12">x</text>
<line x1="1206.20" y1="626.50" x2="1223.20" y2="626.50" stroke="#f59d12" stroke-width="1.3" stroke-linecap="round"/>
<line x1="1206.20" y1="632.50" x2="1223.20" y2="632.50" stroke="#f59d12" stroke-width="1.3" stroke-linecap="round"/>
<text transform="translate(1232.94,641.20) scale(1,1.04)" font-size="34" fill="#f59d12">-0.033</text>
</svg></body></html>
